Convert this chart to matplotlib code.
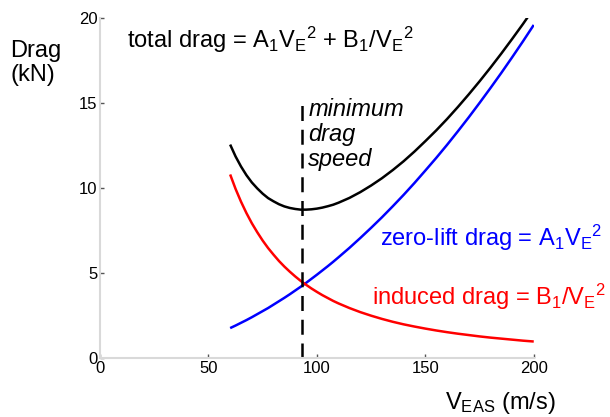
import matplotlib.pyplot as plt
import numpy as np

plt.rcParams["font.family"] = ["Liberation Sans", "DejaVu Sans"]
plt.rcParams["mathtext.fontset"] = "custom"
plt.rcParams["mathtext.rm"] = "Liberation Sans"
plt.rcParams["mathtext.it"] = "Liberation Sans:italic"

# speeds (m/s) and drag values (kN)
speed = [60, 62.5, 65, 67.5, 70, 72.5, 75, 77.5, 80, 82.5, 85, 87.5, 90, 92.5,
         95, 97.5, 100, 102.5, 105, 107.5, 110, 115, 120, 125, 130, 135, 140,
         145, 150, 155, 160, 165, 170, 175, 180, 185, 190, 195, 200]
zero_lift = [1.76, 1.91, 2.07, 2.23, 2.40, 2.58, 2.76, 2.94, 3.14, 3.34, 3.54,
             3.75, 3.97, 4.19, 4.42, 4.66, 4.90, 5.15, 5.40, 5.66, 5.93, 6.48,
             7.06, 7.66, 8.28, 8.93, 9.60, 10.30, 11.03, 11.77, 12.54, 13.34,
             14.16, 15.01, 15.88, 16.77, 17.69, 18.63, 19.60]
induced = [10.80, 9.95, 9.20, 8.53, 7.93, 7.40, 6.91, 6.47, 6.08, 5.71, 5.38,
           5.08, 4.80, 4.54, 4.31, 4.09, 3.89, 3.70, 3.53, 3.36, 3.21, 2.94,
           2.70, 2.49, 2.30, 2.13, 1.98, 1.85, 1.73, 1.62, 1.52, 1.43, 1.35,
           1.27, 1.20, 1.14, 1.08, 1.02, 0.97]
total = [12.56, 11.86, 11.27, 10.76, 10.33, 9.98, 9.67, 9.41, 9.22, 9.05, 8.92,
         8.83, 8.77, 8.73, 8.73, 8.75, 8.79, 8.85, 8.93, 9.02, 9.14, 9.42,
         9.76, 10.15, 10.58, 11.06, 11.58, 12.15, 12.76, 13.39, 14.06, 14.77,
         15.51, 16.28, 17.08, 17.91, 18.77, 19.65, 20.57]
min_drag_speed = 93
dash_top = 15.2

x_ticks = [0, 50, 100, 150, 200]
y_ticks = [0, 5, 10, 15, 20]

fig = plt.figure(figsize=(6.1, 4.17), dpi=100)
ax = fig.add_axes([0.164, 0.1415, 0.711, 0.815])

line_kw = dict(lw=1.8, solid_joinstyle="round", solid_capstyle="butt")
ax.plot(speed, total, color="black", **line_kw)
ax.plot(speed, zero_lift, color="#0000ff", **line_kw)
ax.plot(speed, induced, color="#ff0000", **line_kw)
ax.plot([min_drag_speed, min_drag_speed], [0, dash_top], color="black",
        lw=1.8, ls=(0, (6, 3.5)))

ax.set_xlim(0, 200)
ax.set_ylim(0, 20)
ax.set_xticks(x_ticks)
ax.set_yticks(y_ticks)
ax.tick_params(direction="in", length=3, width=1, color="#555555",
               labelsize=12, pad=2)
for side in ["top", "right"]:
    ax.spines[side].set_visible(False)
for side in ["left", "bottom"]:
    ax.spines[side].set_color("#d9d9d9")
    ax.spines[side].set_linewidth(1.5)

fig.text(127 / 610, 1 - 40 / 417,
         r"total drag = $\mathregular{A_1V_E{}^2}$ + $\mathregular{B_1/V_E{}^2}$",
         fontsize=17, va="center", ha="left")
ax.text(0.645, 0.353, r"zero-lift drag = $\mathregular{A_1V_E{}^2}$", color="#0000ff",
        transform=ax.transAxes, fontsize=17, va="center", ha="left")
ax.text(0.627, 0.18, r"induced drag = $\mathregular{B_1/V_E{}^2}$", color="#ff0000",
        transform=ax.transAxes, fontsize=17, va="center", ha="left")
ax.text(min_drag_speed + 3, 15.3, "minimum\ndrag\nspeed", style="italic",
        fontsize=17, va="top", ha="left", linespacing=1.12)

fig.text(10 / 610, 1 - 63 / 417, "Drag\n(kN)", fontsize=17, ha="left",
         va="center", linespacing=1.15)
fig.text(445 / 610, 1 - 403 / 417, r"$\mathregular{V_{EAS}}$ (m/s)",
         fontsize=17, ha="left", va="center")

fig.savefig("out.png", dpi=100)
